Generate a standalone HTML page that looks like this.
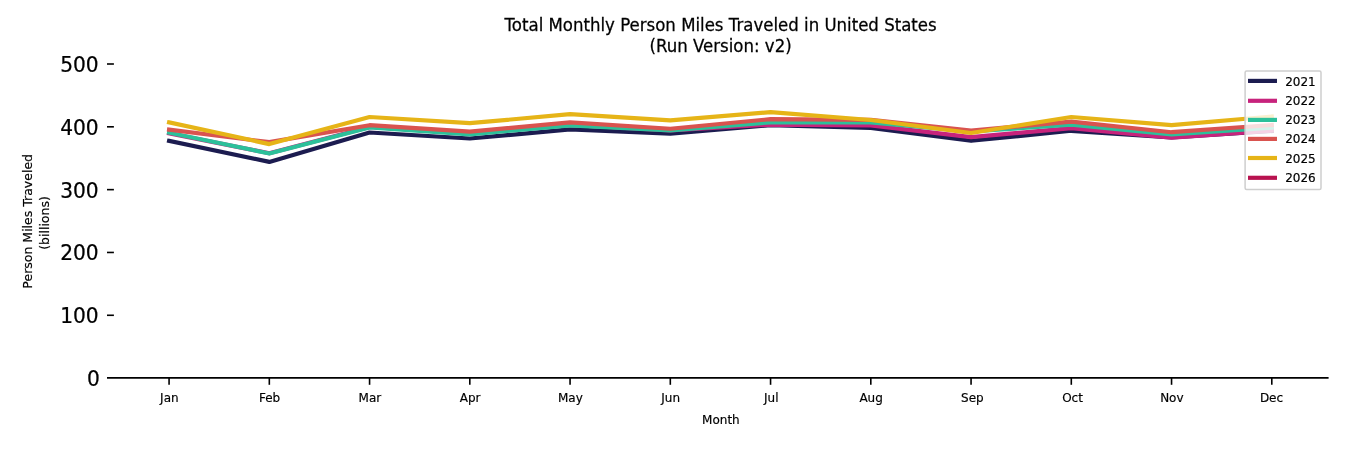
<!DOCTYPE html>
<html lang="en"><head><meta charset="utf-8"><title>Total Monthly Person Miles Traveled in United States</title>
<style>
html,body{margin:0;padding:0;background:#fff;}
body{width:1350px;height:450px;overflow:hidden;}
svg{display:block;}
text{font-family:"DejaVu Sans","Liberation Sans",sans-serif;fill:#000;}
.b1{stroke:#000;stroke-width:0.18px;}
.b2{stroke:#000;stroke-width:0.25px;}
</style></head><body>
<svg width="1350" height="450" viewBox="0 0 1350 450">
<rect width="1350" height="450" fill="#fff"/>
<text transform="translate(720.6,31.2) scale(0.995,1.065)" font-size="16.67" text-anchor="middle" class="b2">Total Monthly Person Miles Traveled in United States</text>
<text transform="translate(720.6,51.7) scale(0.995,1.065)" font-size="16.67" text-anchor="middle" class="b2">(Run Version: v2)</text>
<polyline points="169.07,140.90 269.32,161.90 369.57,132.50 469.81,138.50 570.06,129.40 670.31,133.70 770.56,125.20 870.81,127.90 971.06,140.80 1071.30,130.80 1171.55,137.50 1271.80,131.00" fill="none" stroke="#1c1c50" stroke-width="4.17" stroke-linecap="square" stroke-linejoin="round"/>
<polyline points="169.07,133.30 269.32,153.30 369.57,127.00 469.81,133.50 570.06,125.00 670.31,130.30 770.56,124.60 870.81,125.40 971.06,137.10 1071.30,128.10 1171.55,137.70 1271.80,130.60" fill="none" stroke="#c7237c" stroke-width="4.17" stroke-linecap="square" stroke-linejoin="round"/>
<polyline points="169.07,132.70 269.32,153.50 369.57,127.40 469.81,134.40 570.06,125.30 670.31,130.30 770.56,122.30 870.81,122.50 971.06,131.50 1071.30,124.70 1171.55,134.40 1271.80,127.60" fill="none" stroke="#2cc09a" stroke-width="4.17" stroke-linecap="square" stroke-linejoin="round"/>
<polyline points="169.07,129.60 269.32,142.15 369.57,125.20 469.81,131.60 570.06,122.40 670.31,128.75 770.56,119.15 870.81,119.80 971.06,130.50 1071.30,121.65 1171.55,132.20 1271.80,125.00" fill="none" stroke="#d9534f" stroke-width="4.17" stroke-linecap="square" stroke-linejoin="round"/>
<polyline points="169.07,122.40 269.32,144.10 369.57,117.00 469.81,123.15 570.06,114.20 670.31,120.30 770.56,112.10 870.81,120.00 971.06,133.00 1071.30,117.00 1171.55,125.10 1271.80,116.50" fill="none" stroke="#e6b417" stroke-width="4.17" stroke-linecap="square" stroke-linejoin="round"/>
<line x1="107" y1="377.88" x2="1328.6" y2="377.88" stroke="#000" stroke-width="1.9" stroke-linecap="butt"/>
<line x1="169.07" y1="377.9" x2="169.07" y2="384.80" stroke="#000" stroke-width="1.6"/>
<text x="169.37" y="401.9" font-size="12.0" text-anchor="middle" class="b1">Jan</text>
<line x1="269.32" y1="377.9" x2="269.32" y2="384.80" stroke="#000" stroke-width="1.6"/>
<text x="269.62" y="401.9" font-size="12.0" text-anchor="middle" class="b1">Feb</text>
<line x1="369.57" y1="377.9" x2="369.57" y2="384.80" stroke="#000" stroke-width="1.6"/>
<text x="369.87" y="401.9" font-size="12.0" text-anchor="middle" class="b1">Mar</text>
<line x1="469.81" y1="377.9" x2="469.81" y2="384.80" stroke="#000" stroke-width="1.6"/>
<text x="470.11" y="401.9" font-size="12.0" text-anchor="middle" class="b1">Apr</text>
<line x1="570.06" y1="377.9" x2="570.06" y2="384.80" stroke="#000" stroke-width="1.6"/>
<text x="570.36" y="401.9" font-size="12.0" text-anchor="middle" class="b1">May</text>
<line x1="670.31" y1="377.9" x2="670.31" y2="384.80" stroke="#000" stroke-width="1.6"/>
<text x="670.61" y="401.9" font-size="12.0" text-anchor="middle" class="b1">Jun</text>
<line x1="770.56" y1="377.9" x2="770.56" y2="384.80" stroke="#000" stroke-width="1.6"/>
<text x="771.26" y="401.9" font-size="12.0" text-anchor="middle" class="b1">Jul</text>
<line x1="870.81" y1="377.9" x2="870.81" y2="384.80" stroke="#000" stroke-width="1.6"/>
<text x="871.11" y="401.9" font-size="12.0" text-anchor="middle" class="b1">Aug</text>
<line x1="971.06" y1="377.9" x2="971.06" y2="384.80" stroke="#000" stroke-width="1.6"/>
<text x="972.36" y="401.9" font-size="12.0" text-anchor="middle" class="b1">Sep</text>
<line x1="1071.30" y1="377.9" x2="1071.30" y2="384.80" stroke="#000" stroke-width="1.6"/>
<text x="1072.50" y="401.9" font-size="12.0" text-anchor="middle" class="b1">Oct</text>
<line x1="1171.55" y1="377.9" x2="1171.55" y2="384.80" stroke="#000" stroke-width="1.6"/>
<text x="1171.85" y="401.9" font-size="12.0" text-anchor="middle" class="b1">Nov</text>
<line x1="1271.80" y1="377.9" x2="1271.80" y2="384.80" stroke="#000" stroke-width="1.6"/>
<text x="1271.50" y="401.9" font-size="12.0" text-anchor="middle" class="b1">Dec</text>
<text transform="translate(99.90,386.10) scale(0.97,1)" font-size="20.8" text-anchor="end" class="b2">0</text>
<line x1="107" y1="315.28" x2="113.9" y2="315.28" stroke="#000" stroke-width="1.6"/>
<text transform="translate(98.70,323.28) scale(0.97,1)" font-size="20.8" text-anchor="end" class="b2">100</text>
<line x1="107" y1="252.46" x2="113.9" y2="252.46" stroke="#000" stroke-width="1.6"/>
<text transform="translate(98.70,260.46) scale(0.97,1)" font-size="20.8" text-anchor="end" class="b2">200</text>
<line x1="107" y1="189.64" x2="113.9" y2="189.64" stroke="#000" stroke-width="1.6"/>
<text transform="translate(98.70,197.64) scale(0.97,1)" font-size="20.8" text-anchor="end" class="b2">300</text>
<line x1="107" y1="126.82" x2="113.9" y2="126.82" stroke="#000" stroke-width="1.6"/>
<text transform="translate(98.70,134.82) scale(0.97,1)" font-size="20.8" text-anchor="end" class="b2">400</text>
<line x1="107" y1="64.00" x2="113.9" y2="64.00" stroke="#000" stroke-width="1.6"/>
<text transform="translate(98.70,72.00) scale(0.97,1)" font-size="20.8" text-anchor="end" class="b2">500</text>
<text x="720.9" y="424" font-size="12.0" text-anchor="middle" class="b1">Month</text>
<text transform="translate(32.4,221.3) rotate(-90)" font-size="12.5" text-anchor="middle" class="b1">Person Miles Traveled</text>
<text transform="translate(49.0,223.0) rotate(-90)" font-size="12.5" text-anchor="middle" class="b1">(billions)</text>
<rect x="1245.1" y="71.1" width="75.9" height="118.4" rx="1.5" ry="1.5" fill="#fff" fill-opacity="0.8" stroke="#cecece" stroke-width="1.5"/>
<line x1="1250.1" y1="80.9" x2="1274.9" y2="80.9" stroke="#1c1c50" stroke-width="4.17" stroke-linecap="square"/>
<text x="1285.2" y="86.00" font-size="12.0" class="b1">2021</text>
<line x1="1250.1" y1="100.8" x2="1274.9" y2="100.8" stroke="#c7237c" stroke-width="4.17" stroke-linecap="square"/>
<text x="1285.2" y="105.00" font-size="12.0" class="b1">2022</text>
<line x1="1250.1" y1="119.9" x2="1274.9" y2="119.9" stroke="#2cc09a" stroke-width="4.17" stroke-linecap="square"/>
<text x="1285.2" y="124.20" font-size="12.0" class="b1">2023</text>
<line x1="1250.1" y1="138.9" x2="1274.9" y2="138.9" stroke="#d9534f" stroke-width="4.17" stroke-linecap="square"/>
<text x="1285.2" y="143.30" font-size="12.0" class="b1">2024</text>
<line x1="1250.1" y1="158.0" x2="1274.9" y2="158.0" stroke="#e6b417" stroke-width="4.17" stroke-linecap="square"/>
<text x="1285.2" y="162.70" font-size="12.0" class="b1">2025</text>
<line x1="1250.1" y1="177.8" x2="1274.9" y2="177.8" stroke="#b8124f" stroke-width="4.17" stroke-linecap="square"/>
<text x="1285.2" y="182.00" font-size="12.0" class="b1">2026</text>
</svg>
</body></html>
